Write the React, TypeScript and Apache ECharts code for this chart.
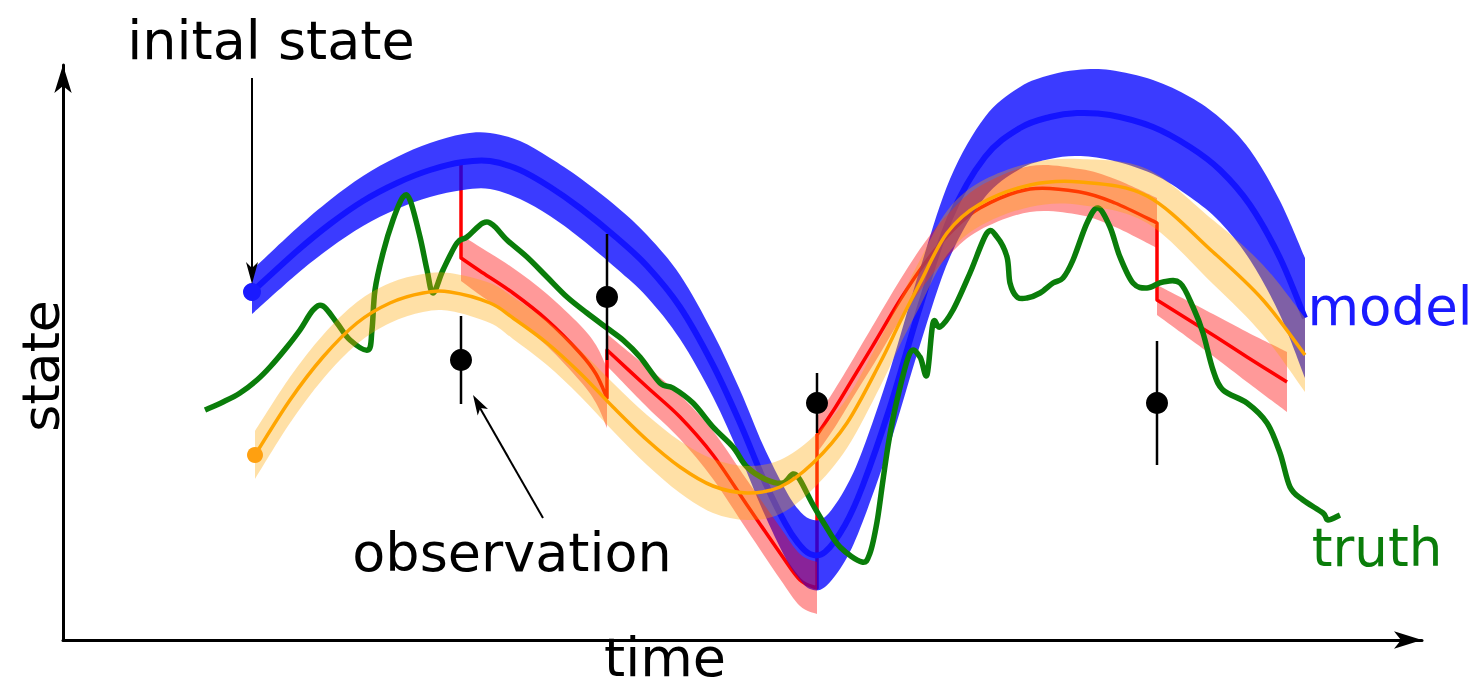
import React, { useEffect, useRef } from 'react';
import * as echarts from 'echarts';

// ---- model (forecast ensemble) : time, mean state, spread ----
const modelTime = [1.89, 2.34, 2.67, 3.0, 3.34, 3.67, 4.0, 4.27, 4.57, 4.87, 5.17, 5.54, 5.84, 6.17, 6.5, 6.77, 7.0, 7.22, 7.35, 7.47, 7.62, 7.82, 8.0, 8.27, 8.57, 8.87, 9.22, 9.57, 9.87, 10.14, 10.47, 10.9, 11.27, 11.57, 11.87, 12.17, 12.42];
const modelMean = [3.48, 3.89, 4.16, 4.39, 4.57, 4.7, 4.78, 4.79, 4.7, 4.53, 4.32, 4.02, 3.74, 3.33, 2.75, 2.17, 1.62, 1.17, 0.97, 0.86, 0.88, 1.15, 1.55, 2.33, 3.33, 4.22, 4.83, 5.12, 5.23, 5.27, 5.25, 5.13, 4.93, 4.7, 4.35, 3.82, 3.22];
const modelSpread = [0.22, 0.23, 0.24, 0.25, 0.26, 0.27, 0.28, 0.28, 0.29, 0.29, 0.3, 0.31, 0.31, 0.32, 0.32, 0.33, 0.33, 0.34, 0.34, 0.35, 0.35, 0.36, 0.36, 0.37, 0.38, 0.39, 0.4, 0.41, 0.42, 0.43, 0.45, 0.47, 0.5, 0.52, 0.55, 0.57, 0.6];

// ---- second model run (orange) ----
const bgTime = [1.92, 2.27, 2.6, 2.94, 3.27, 3.6, 3.87, 4.27, 4.5, 4.84, 5.17, 5.5, 5.84, 6.17, 6.5, 6.84, 7.17, 7.5, 7.84, 8.17, 8.37, 8.57, 8.84, 9.17, 9.67, 10.17, 10.84, 11.5, 12.0, 12.42];
const bgMean = [1.85, 2.4, 2.83, 3.17, 3.37, 3.47, 3.48, 3.37, 3.22, 2.97, 2.67, 2.33, 2.0, 1.73, 1.54, 1.47, 1.53, 1.77, 2.17, 2.77, 3.18, 3.57, 4.07, 4.36, 4.55, 4.58, 4.44, 3.88, 3.4, 2.85];
const bgSpread = [0.24, 0.23, 0.22, 0.21, 0.2, 0.19, 0.19, 0.2, 0.21, 0.22, 0.23, 0.24, 0.25, 0.26, 0.27, 0.27, 0.27, 0.26, 0.25, 0.24, 0.23, 0.23, 0.22, 0.22, 0.22, 0.23, 0.27, 0.32, 0.35, 0.37];

// ---- analysis runs restarted at each observation: [time, mean, spread] ----
const analysis1 = [[3.98, 3.82, 0.23], [4.17, 3.69, 0.24], [4.5, 3.47, 0.25], [4.84, 3.2, 0.26], [5.17, 2.87, 0.28], [5.33, 2.66, 0.29], [5.44, 2.42, 0.3]];
const analysis2 = [[5.44, 2.9, 0.16], [5.84, 2.53, 0.2], [6.17, 2.23, 0.22], [6.5, 1.85, 0.24], [6.84, 1.35, 0.25], [7.17, 0.87, 0.26], [7.37, 0.6, 0.26], [7.54, 0.52, 0.26]];
const analysis3 = [[7.54, 2.05, 0.18], [7.72, 2.32, 0.19], [7.89, 2.6, 0.19], [8.12, 2.98, 0.2], [8.37, 3.4, 0.2], [8.62, 3.77, 0.21], [8.87, 4.07, 0.21], [9.17, 4.32, 0.22], [9.67, 4.51, 0.23], [10.17, 4.48, 0.23], [10.52, 4.37, 0.24], [10.94, 4.17, 0.25]];
const analysis4 = [[10.94, 3.4, 0.15], [11.5, 3.05, 0.21], [11.84, 2.83, 0.25], [12.24, 2.58, 0.3]];
const firstGuessAtObs = 4.79; // model mean where the first analysis starts

// ---- observations ----
const obsTime = [3.98, 5.44, 7.54, 10.94];
const obsValue = [2.8, 3.43, 2.37, 2.37];
const obsError = [0.44, 0.63, 0.3, 0.62];

// ---- truth ----
const truthTime = [1.42, 1.6, 1.77, 1.94, 2.07, 2.24, 2.37, 2.5, 2.6, 2.74, 2.87, 3.05, 3.09, 3.12, 3.2, 3.3, 3.4, 3.47, 3.57, 3.64, 3.7, 3.8, 3.94, 4.04, 4.2, 4.3, 4.44, 4.64, 4.84, 5.04, 5.24, 5.44, 5.6, 5.77, 5.97, 6.1, 6.3, 6.5, 6.7, 6.84, 7.04, 7.2, 7.3, 7.37, 7.49, 7.62, 7.77, 7.99, 8.07, 8.14, 8.2, 8.26, 8.34, 8.47, 8.57, 8.64, 8.7, 8.77, 8.9, 9.07, 9.24, 9.34, 9.44, 9.47, 9.54, 9.64, 9.77, 9.9, 10.0, 10.1, 10.24, 10.35, 10.47, 10.57, 10.7, 10.84, 11.0, 11.17, 11.3, 11.4, 11.5, 11.6, 11.84, 12.04, 12.17, 12.27, 12.4, 12.6, 12.65, 12.77];
const truthValue = [2.3, 2.38, 2.47, 2.6, 2.73, 2.93, 3.1, 3.3, 3.34, 3.17, 3.0, 2.9, 3.1, 3.5, 3.87, 4.2, 4.43, 4.4, 4.03, 3.7, 3.47, 3.7, 3.97, 4.03, 4.17, 4.15, 4.0, 3.83, 3.63, 3.43, 3.27, 3.12, 3.0, 2.83, 2.57, 2.52, 2.37, 2.13, 1.93, 1.73, 1.6, 1.57, 1.66, 1.6, 1.37, 1.15, 0.93, 0.78, 0.87, 1.18, 1.6, 2.0, 2.4, 2.87, 2.83, 2.65, 3.17, 3.13, 3.3, 3.67, 4.07, 4.03, 3.83, 3.57, 3.43, 3.42, 3.47, 3.57, 3.62, 3.8, 4.17, 4.32, 4.13, 3.83, 3.57, 3.52, 3.58, 3.57, 3.33, 3.07, 2.7, 2.5, 2.37, 2.17, 1.87, 1.53, 1.4, 1.27, 1.2, 1.25];

const FONT = 'DejaVu Sans';

// Catmull-Rom spline through screen points, as cubic Bezier path commands
function spline(pts: number[][], start: 'M' | 'L'): string {
  let d = `${start}${pts[0][0]},${pts[0][1]}`;
  for (let i = 0; i < pts.length - 1; i++) {
    const p0 = pts[i - 1] || pts[i];
    const p1 = pts[i];
    const p2 = pts[i + 1];
    const p3 = pts[i + 2] || p2;
    const c1x = p1[0] + (p2[0] - p0[0]) / 6;
    const c1y = p1[1] + (p2[1] - p0[1]) / 6;
    const c2x = p2[0] - (p3[0] - p1[0]) / 6;
    const c2y = p2[1] - (p3[1] - p1[1]) / 6;
    d += ` C${c1x},${c1y} ${c2x},${c2y} ${p2[0]},${p2[1]}`;
  }
  return d;
}

const zip3 = (a: number[], b: number[], c: number[]) => a.map((t, i) => [t, b[i], c[i]]);

function bandSeries(name: string, segments: number[][][], fill: string, z: number) {
  return {
    name,
    type: 'custom',
    z,
    silent: true,
    data: segments.flat(),
    encode: { x: 0, y: 1 },
    renderItem: (params: any, api: any) => {
      if (params.dataIndex !== 0) return null;
      const d = segments
        .map((rows) => {
          const up = rows.map((r) => api.coord([r[0], r[1] + r[2]]));
          const lo = rows.map((r) => api.coord([r[0], r[1] - r[2]])).reverse();
          return `${spline(up, 'M')} ${spline(lo, 'L')} Z`;
        })
        .join(' ');
      return { type: 'path', shape: { pathData: d }, style: { fill, stroke: 'none' } };
    },
  };
}

// curve through one or more segments; consecutive segments are joined by straight jumps
function curveSeries(name: string, segments: number[][][], stroke: string, lineWidth: number, z: number, lead?: number[]) {
  return {
    name,
    type: 'custom',
    z,
    silent: true,
    data: segments.flat(),
    encode: { x: 0, y: 1 },
    renderItem: (params: any, api: any) => {
      if (params.dataIndex !== 0) return null;
      let d = '';
      if (lead) {
        const p = api.coord(lead);
        d = `M${p[0]},${p[1]} `;
      }
      segments.forEach((rows, k) => {
        const pts = rows.map((r) => api.coord([r[0], r[1]]));
        d += spline(pts, k === 0 && !lead ? 'M' : 'L') + ' ';
      });
      return {
        type: 'path',
        shape: { pathData: d },
        style: { fill: 'none', stroke, lineWidth, lineJoin: 'round' },
      };
    },
  };
}

const axisCommon = {
  type: 'value',
  axisTick: { show: false },
  axisLabel: { show: false },
  splitLine: { show: false },
  axisLine: {
    show: true,
    onZero: false,
    symbol: ['none', 'arrow'],
    symbolSize: [13, 28],
    lineStyle: { color: '#000', width: 3 },
  },
};

const textEl = (text: string, x: number, y: number, fill: string, fontSize: number, rotation = 0) => ({
  type: 'text',
  x,
  y,
  rotation,
  z: 100,
  style: {
    text,
    fill,
    fontSize,
    fontFamily: FONT,
    align: 'center',
    verticalAlign: 'middle',
    textAlign: 'center',
    textVerticalAlign: 'middle',
  },
});

function buildOption() {
  const modelRows = zip3(modelTime, modelMean, modelSpread);
  const bgRows = zip3(bgTime, bgMean, bgSpread);
  const analyses = [analysis1, analysis2, analysis3, analysis4];
  const truthRows = truthTime.map((t, i) => [t, truthValue[i]]);
  const obsRows = obsTime.map((t, i) => [t, obsValue[i], obsError[i]]);

  return {
    animation: false,
    backgroundColor: '#fff',
    grid: { left: 63, right: 57, top: 65, bottom: 48 },
    xAxis: { ...axisCommon, min: 0, max: 13.59 },
    yAxis: { ...axisCommon, min: 0, max: 5.75 },
    series: [
      curveSeries('analysis', analyses, '#ff0000', 3.5, 2, [obsTime[0], firstGuessAtObs]),
      bandSeries('model spread', [modelRows], 'rgba(0,0,255,0.77)', 3),
      curveSeries('model', [modelRows], '#1414ff', 6, 4),
      bandSeries('analysis spread', analyses, 'rgba(255,0,0,0.4)', 5),
      curveSeries('truth', [truthRows], '#0a7d0a', 5.5, 6),
      bandSeries('background spread', [bgRows], 'rgba(255,165,0,0.35)', 7),
      curveSeries('background', [bgRows], '#ffa500', 3.5, 8),
      {
        name: 'model start',
        type: 'scatter',
        z: 9,
        silent: true,
        symbolSize: 18,
        itemStyle: { color: '#1a1aff', opacity: 1 },
        data: [[modelTime[0], modelMean[0]]],
      },
      {
        name: 'background start',
        type: 'scatter',
        z: 9,
        silent: true,
        symbolSize: 16,
        itemStyle: { color: '#ffa010', opacity: 1 },
        data: [[bgTime[0], bgMean[0]]],
      },
      {
        name: 'observation error',
        type: 'custom',
        z: 10,
        silent: true,
        data: obsRows,
        encode: { x: 0, y: 1 },
        renderItem: (params: any, api: any) => {
          const t = api.value(0);
          const v = api.value(1);
          const e = api.value(2);
          const a = api.coord([t, v + e]);
          const b = api.coord([t, v - e]);
          return {
            type: 'line',
            shape: { x1: a[0], y1: a[1], x2: b[0], y2: b[1] },
            style: { stroke: '#000', lineWidth: 2.5 },
          };
        },
      },
      {
        name: 'observation',
        type: 'scatter',
        z: 11,
        silent: true,
        symbolSize: 22,
        itemStyle: { color: '#000', opacity: 1 },
        data: obsRows.map((r) => [r[0], r[1]]),
      },
    ],
    graphic: [
      textEl('inital state', 271, 40, '#000', 54),
      textEl('observation', 512, 552, '#000', 54),
      textEl('model', 1390, 306, '#1a1aff', 53),
      textEl('truth', 1377, 547, '#0a7d0a', 53),
      textEl('time', 665, 657, '#000', 54),
      textEl('state', 41, 366, '#000', 52, Math.PI / 2),
      // pointer to the initial state
      { type: 'line', z: 100, shape: { x1: 252, y1: 78, x2: 252, y2: 270 }, style: { stroke: '#000', lineWidth: 2 } },
      { type: 'polygon', z: 100, shape: { points: [[252, 284], [246, 262], [252, 268], [258, 262]] }, style: { fill: '#000' } },
      // pointer to the first observation
      { type: 'line', z: 100, shape: { x1: 543, y1: 518, x2: 480, y2: 408 }, style: { stroke: '#000', lineWidth: 2 } },
      { type: 'polygon', z: 100, shape: { points: [[473, 395], [488, 409], [480.4, 408], [477.7, 415.4]] }, style: { fill: '#000' } },
    ],
  };
}

export default function App() {
  const ref = useRef<HTMLDivElement>(null);
  useEffect(() => {
    const chart = echarts.init(ref.current as HTMLDivElement, undefined, { renderer: 'svg' });
    chart.setOption(buildOption() as any);
    return () => chart.dispose();
  }, []);
  return (
    <div
      ref={ref}
      style={{ position: 'fixed', left: 0, top: 0, width: 1479, height: 688, background: '#fff' }}
    />
  );
}
